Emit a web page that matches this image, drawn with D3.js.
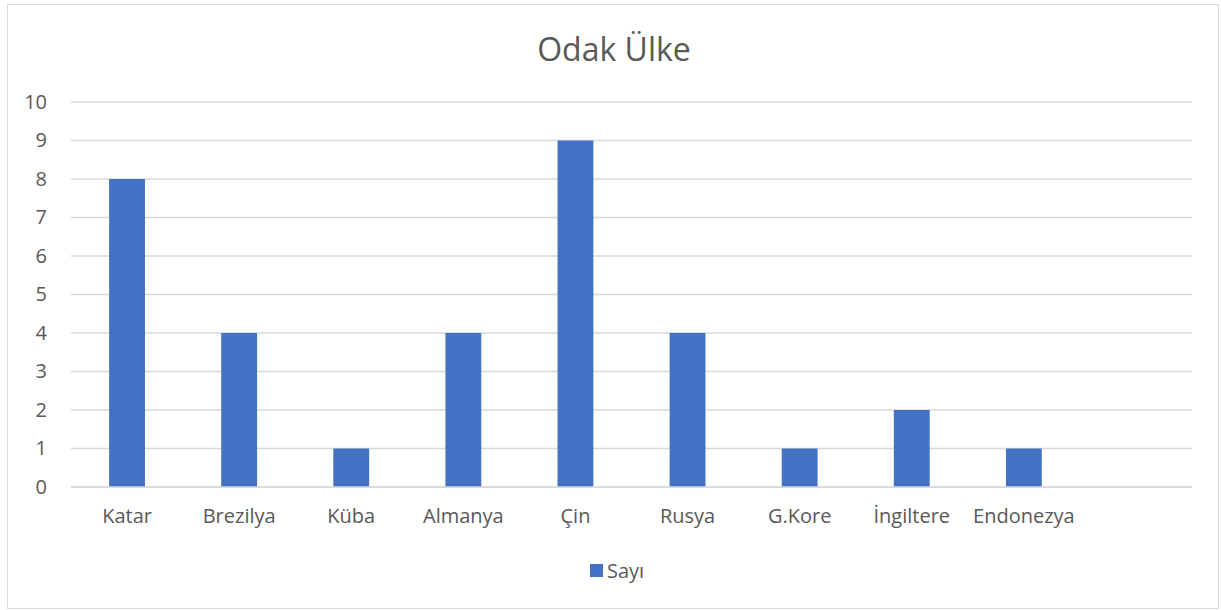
<!DOCTYPE html>
<html>
<head>
<meta charset="utf-8">
<script src="https://cdn.jsdelivr.net/npm/d3@7"></script>
<style>
  body { margin: 0; background: #fff; }
  svg text { font-family: "Open Sans", "Liberation Sans", sans-serif; fill: #595959; }
</style>
</head>
<body>
<svg id="chart" width="1221" height="610"></svg>
<script>
// Odak Ülke - bar chart
const categories = ["Katar", "Brezilya", "Küba", "Almanya", "Çin", "Rusya", "G.Kore", "İngiltere", "Endonezya"];
const values = [8, 4, 1, 4, 9, 4, 1, 2, 1];
const yTicks = [0, 1, 2, 3, 4, 5, 6, 7, 8, 9, 10];
const seriesName = "Sayı";
const title = "Odak Ülke";

const svg = d3.select("#chart");
const width = 1221;
const height = 610;
const margin = { top: 102, right: 29, bottom: 123, left: 71 };

// chart border
svg.append("rect")
    .attr("x", 7.5).attr("y", 4.5)
    .attr("width", 1211).attr("height", 604)
    .attr("fill", "#fff")
    .attr("stroke", "#d9d9d9")
    .attr("stroke-width", 1);

// an empty slot at the end, like the source sheet
const slots = categories.concat([""]);
const x = d3.scaleBand()
    .domain(slots)
    .range([margin.left, width - margin.right])
    .padding(0);

const y = d3.scaleLinear()
    .domain([0, 10])
    .range([height - margin.bottom, margin.top]);

// gridlines
svg.append("g")
    .selectAll("line")
    .data(yTicks)
    .join("line")
    .attr("x1", margin.left)
    .attr("x2", width - margin.right)
    .attr("y1", d => y(d))
    .attr("y2", d => y(d))
    .attr("stroke", "#d9d9d9")
    .attr("stroke-width", 1.3);

// y axis labels
const yAxis = svg.append("g")
    .attr("transform", `translate(${margin.left},0)`)
    .call(d3.axisLeft(y).tickValues(yTicks).tickSize(0).tickPadding(24));
yAxis.select(".domain").remove();
yAxis.selectAll("text")
    .style("font-size", "20px")
    .attr("fill", "#595959");

// bars
const barW = x.bandwidth() * 0.32;
svg.append("g")
    .selectAll("rect")
    .data(values)
    .join("rect")
    .attr("x", (d, i) => x(categories[i]) + (x.bandwidth() - barW) / 2)
    .attr("y", d => y(d))
    .attr("width", barW)
    .attr("height", d => y(0) - y(d))
    .attr("fill", "#4472c4");

// x axis labels
const xAxis = svg.append("g")
    .attr("transform", `translate(0,${height - margin.bottom})`)
    .call(d3.axisBottom(x).tickSize(0).tickPadding(22));
xAxis.select(".domain").remove();
xAxis.selectAll("text")
    .style("font-size", "20px")
    .attr("fill", "#595959");

// baseline over bars
svg.append("line")
    .attr("x1", margin.left).attr("x2", width - margin.right)
    .attr("y1", y(0)).attr("y2", y(0))
    .attr("stroke", "#d9d9d9")
    .attr("stroke-width", 1.3);

// title
svg.append("text")
    .attr("x", 614).attr("y", 61)
    .attr("text-anchor", "middle")
    .style("font-size", "32px")
    .text(title);

// legend
const legend = svg.append("g").attr("transform", "translate(590,564)");
legend.append("rect")
    .attr("width", 13).attr("height", 13)
    .attr("fill", "#4472c4");
legend.append("text")
    .attr("x", 17).attr("y", 14)
    .style("font-size", "20px")
    .text(seriesName);
</script>
</body>
</html>
